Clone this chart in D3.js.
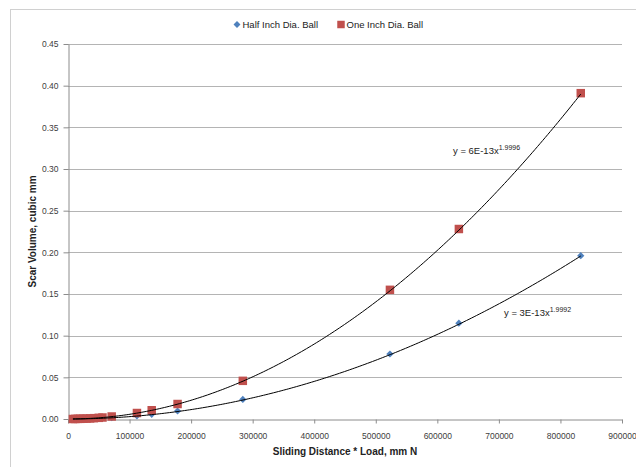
<!DOCTYPE html>
<html>
<head>
<meta charset="utf-8">
<script src="https://cdn.jsdelivr.net/npm/d3@7/dist/d3.min.js"></script>
<style>
  html, body { margin: 0; padding: 0; background: #fff; }
  svg { display: block; }
  text { font-family: "Liberation Sans", Arial, sans-serif; }
</style>
</head>
<body>
<svg id="chart" width="636" height="467"></svg>
<script>
// Sliding distance * load (mm N) for each test
const halfX = [8000, 12000, 16000, 20000, 25000, 30000, 36000, 42000, 50000, 56000, 71000, 112000, 136000, 178000, 284000, 523000, 635000, 833000];
const halfY = [0.0000, 0.0000, 0.0001, 0.0001, 0.0002, 0.0003, 0.0004, 0.0005, 0.0007, 0.0009, 0.0015, 0.0038, 0.0056, 0.0096, 0.0235, 0.078, 0.115, 0.196];
const oneX = [8000, 12000, 16000, 20000, 25000, 30000, 36000, 42000, 50000, 56000, 71000, 112000, 136000, 178000, 284000, 523000, 635000, 833000];
const oneY = [0.0000, 0.0001, 0.0002, 0.0002, 0.0004, 0.0005, 0.0007, 0.0010, 0.0014, 0.0018, 0.0030, 0.0072, 0.0105, 0.0180, 0.0458, 0.155, 0.228, 0.391];

// Power trendline coefficients y = a * x^b
const trendA = [2.85e-13, 5.65e-13];
const trendB = [1.9992, 1.9996];

const seriesNames = ["Half Inch Dia. Ball", "One Inch Dia. Ball"];
const seriesColors = ["#4F81BD", "#C0504D"];

const xTicks = [0, 100000, 200000, 300000, 400000, 500000, 600000, 700000, 800000, 900000];
const yTicks = [0, 0.05, 0.10, 0.15, 0.20, 0.25, 0.30, 0.35, 0.40, 0.45];

const xTitle = "Sliding Distance * Load, mm N";
const yTitle = "Scar Volume, cubic mm";

const svg = d3.select("#chart");
const plot = { left: 68, right: 622, top: 44, bottom: 419 };

// outer chart frame
svg.append("rect")
  .attr("x", 10.5).attr("y", 9.5)
  .attr("width", 700).attr("height", 600)
  .attr("fill", "none").attr("stroke", "#d0d0d0").attr("stroke-width", 1);

const x = d3.scaleLinear().domain([0, 900000]).range([plot.left, plot.right]);
const y = d3.scaleLinear().domain([0, 0.45]).range([plot.bottom, plot.top]);

// horizontal gridlines
svg.append("g")
  .selectAll("line")
  .data(yTicks.filter(d => d > 0))
  .join("line")
  .attr("x1", plot.left).attr("x2", plot.right)
  .attr("y1", d => Math.round(y(d)) + 0.5).attr("y2", d => Math.round(y(d)) + 0.5)
  .attr("stroke", "#b4b4b4").attr("stroke-width", 1.2);

// x axis
const xAxis = svg.append("g")
  .attr("transform", `translate(0,${plot.bottom + 0.5})`)
  .call(d3.axisBottom(x).tickValues(xTicks).tickFormat(d3.format("d")).tickSize(4).tickSizeOuter(0).tickPadding(9));
// y axis
const yAxis = svg.append("g")
  .attr("transform", `translate(${plot.left + 0.5},0)`)
  .call(d3.axisLeft(y).tickValues(yTicks).tickFormat(d3.format(".2f")).tickSize(5).tickSizeOuter(0).tickPadding(5));

[xAxis, yAxis].forEach(g => {
  g.select(".domain").attr("stroke", "#8c8c8c").attr("stroke-width", 1);
  g.selectAll(".tick line").attr("stroke", "#8c8c8c");
  g.selectAll(".tick text").attr("fill", "#404040").attr("font-size", "8.5px")
    .style("font-family", "'Liberation Sans', Arial, sans-serif");
});

// axis titles
svg.append("text")
  .attr("x", (plot.left + plot.right) / 2).attr("y", 455)
  .attr("text-anchor", "middle").attr("font-size", "10px").attr("font-weight", "bold")
  .attr("fill", "#222").text(xTitle);
svg.append("text")
  .attr("transform", `translate(36,${(plot.top + plot.bottom) / 2}) rotate(-90)`)
  .attr("text-anchor", "middle").attr("font-size", "10px").attr("font-weight", "bold")
  .attr("fill", "#222").text(yTitle);

// diamonds are squares turned 45 degrees
const series = [
  { xs: halfX, ys: halfY, shape: d3.symbolSquare, size: 26, rot: 45 },
  { xs: oneX, ys: oneY, shape: d3.symbolSquare, size: 72, rot: 0 }
];

// power trendline samples between the first and last test
series.forEach((s, i) => {
  const x0 = d3.min(s.xs), x1 = d3.max(s.xs);
  s.trend = d3.range(0, 201).map(k => {
    const xv = x0 + (x1 - x0) * k / 200;
    return [xv, trendA[i] * Math.pow(xv, trendB[i])];
  });
});

// markers
series.forEach((s, i) => {
  svg.append("g")
    .selectAll("path")
    .data(s.xs.map((xv, k) => [xv, s.ys[k]]))
    .join("path")
    .attr("transform", d => `translate(${x(d[0])},${y(d[1])}) rotate(${s.rot})`)
    .attr("d", d3.symbol().type(s.shape).size(s.size))
    .attr("fill", seriesColors[i]);
});

const line = d3.line().x(d => x(d[0])).y(d => y(d[1]));
series.forEach(s => {
  svg.append("path")
    .attr("d", line(s.trend))
    .attr("fill", "none").attr("stroke", "#000").attr("stroke-width", 1);
});

// trendline equations
const eqPos = [[504, 316], [453, 154]];
series.forEach((s, i) => {
  const coef = d3.format(".0e")(trendA[i]).toUpperCase();
  const t = svg.append("text")
    .attr("x", eqPos[i][0]).attr("y", eqPos[i][1])
    .attr("font-size", "9.5px").attr("fill", "#222");
  t.append("tspan").text(`y = ${coef}x`);
  t.append("tspan").attr("dy", -4).attr("font-size", "7px").text(d3.format(".4f")(trendB[i]));
});

// legend
const legend = svg.append("g");
const legendItems = [
  { x: 237, shape: d3.symbolSquare, size: 24, rot: 45 },
  { x: 341, shape: d3.symbolSquare, size: 56, rot: 0 }
];
legendItems.forEach((it, i) => {
  legend.append("path")
    .attr("transform", `translate(${it.x},24.5) rotate(${it.rot})`)
    .attr("d", d3.symbol().type(it.shape).size(it.size))
    .attr("fill", seriesColors[i]);
  legend.append("text")
    .attr("x", it.x + 5.5).attr("y", 28)
    .attr("font-size", "9.5px").attr("fill", "#222")
    .text(seriesNames[i]);
});
</script>
</body>
</html>
